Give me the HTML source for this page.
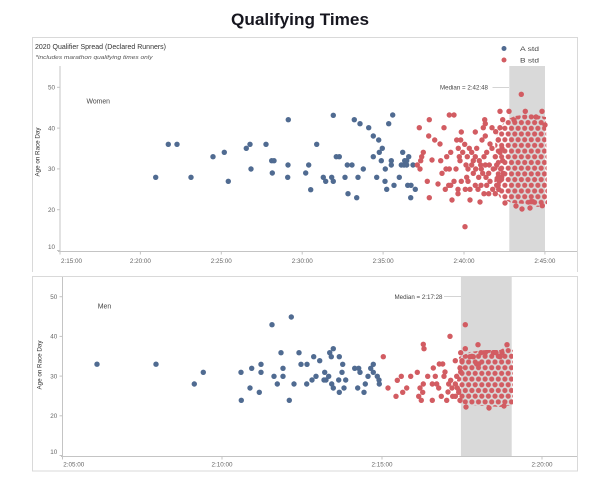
<!DOCTYPE html>
<html><head><meta charset="utf-8"><style>
html,body{margin:0;padding:0;background:#fff;}
svg{display:block;}
text{font-family:"Liberation Sans",sans-serif;}
</style></head><body>
<svg width="600" height="478" viewBox="0 0 600 478" xmlns="http://www.w3.org/2000/svg">
<defs>
<pattern id="pr" patternUnits="userSpaceOnUse" width="6.6" height="11.4">
<circle cx="3.3" cy="2.85" r="2.6" fill="#d25c62"/>
<circle cx="0" cy="8.55" r="2.6" fill="#d25c62"/>
<circle cx="6.6" cy="8.55" r="2.6" fill="#d25c62"/>
</pattern>
</defs>
<rect width="600" height="478" fill="#fff"/>
<text x="300" y="25" text-anchor="middle" font-size="17" font-weight="bold" fill="#16161f" textLength="138" lengthAdjust="spacingAndGlyphs">Qualifying Times</text>

<g stroke="#d9d9d9" stroke-width="1" fill="none">
<path d="M32.5 272 V37.5 H577.5 V272"/>
<rect x="32.5" y="276.5" width="545" height="194.5"/>
</g>

<text x="35" y="49" font-size="7" fill="#333" textLength="131" lengthAdjust="spacingAndGlyphs">2020 Qualifier Spread (Declared Runners)</text>
<text x="35.5" y="59" font-size="5.6" font-style="italic" fill="#555" textLength="117" lengthAdjust="spacingAndGlyphs">*includes marathon qualifying times only</text>

<circle cx="504" cy="48.5" r="2.5" fill="#506b91"/>
<text x="520" y="51" font-size="6" fill="#444" textLength="19" lengthAdjust="spacingAndGlyphs">A std</text>
<circle cx="504" cy="60" r="2.5" fill="#d25c62"/>
<text x="520" y="62.5" font-size="6" fill="#444" textLength="19" lengthAdjust="spacingAndGlyphs">B std</text>

<!-- ===== TOP CHART ===== -->
<rect x="509.3" y="66" width="35.7" height="185" fill="#d9d9d9"/>
<line x1="492.5" y1="87.3" x2="509" y2="87.3" stroke="#bbb" stroke-width="0.7"/>
<text x="440" y="89.5" font-size="6" fill="#444" textLength="48" lengthAdjust="spacingAndGlyphs">Median = 2:42:48</text>
<text x="86.5" y="103.5" font-size="7" fill="#444" textLength="23.5" lengthAdjust="spacingAndGlyphs">Women</text>
<text transform="translate(39.5,152) rotate(-90)" text-anchor="middle" font-size="6" fill="#333" textLength="49" lengthAdjust="spacingAndGlyphs">Age on Race Day</text>

<g stroke="#c4c4c4" stroke-width="1">
<line x1="60" y1="66" x2="60" y2="251.5"/>
<line x1="58" y1="251.5" x2="577" y2="251.5"/>
<line x1="57" y1="87.3" x2="60" y2="87.3"/>
<line x1="57" y1="128.1" x2="60" y2="128.1"/>
<line x1="57" y1="168.9" x2="60" y2="168.9"/>
<line x1="57" y1="209.7" x2="60" y2="209.7"/>
<line x1="57" y1="250.5" x2="60" y2="250.5"/>
<line x1="60" y1="251.5" x2="60" y2="254.5"/>
<line x1="140.4" y1="251.5" x2="140.4" y2="254.5"/>
<line x1="221.3" y1="251.5" x2="221.3" y2="254.5"/>
<line x1="302.2" y1="251.5" x2="302.2" y2="254.5"/>
<line x1="383.1" y1="251.5" x2="383.1" y2="254.5"/>
<line x1="464" y1="251.5" x2="464" y2="254.5"/>
<line x1="544.9" y1="251.5" x2="544.9" y2="254.5"/>
</g>
<g font-size="6.3" fill="#666" text-anchor="end">
<text x="55" y="89.5">50</text>
<text x="55" y="130.3">40</text>
<text x="55" y="171.1">30</text>
<text x="55" y="211.9">20</text>
<text x="55" y="249.2">10</text>
</g>
<g font-size="6.3" fill="#666" text-anchor="middle">
<text x="61" y="263.2" text-anchor="start">2:15:00</text>
<text x="140.4" y="263.2">2:20:00</text>
<text x="221.3" y="263.2">2:25:00</text>
<text x="302.2" y="263.2">2:30:00</text>
<text x="383.1" y="263.2">2:35:00</text>
<text x="464" y="263.2">2:40:00</text>
<text x="544.9" y="263.2">2:45:00</text>
</g>

<g fill="#506b91">
<circle cx="155.7" cy="177.3" r="2.7"/><circle cx="168.3" cy="144.3" r="2.7"/><circle cx="177" cy="144.3" r="2.7"/>
<circle cx="191" cy="177.3" r="2.7"/><circle cx="213" cy="156.7" r="2.7"/><circle cx="224.3" cy="152.3" r="2.7"/>
<circle cx="228.3" cy="181.3" r="2.7"/><circle cx="246.3" cy="148.3" r="2.7"/><circle cx="250" cy="144.3" r="2.7"/>
<circle cx="251" cy="169" r="2.7"/><circle cx="266" cy="144.3" r="2.7"/><circle cx="271.7" cy="160.7" r="2.7"/>
<circle cx="274" cy="160.7" r="2.7"/><circle cx="272.3" cy="173" r="2.7"/><circle cx="288.3" cy="119.7" r="2.7"/>
<circle cx="288" cy="165" r="2.7"/><circle cx="287.7" cy="177.3" r="2.7"/><circle cx="305.7" cy="173" r="2.7"/>
<circle cx="308.7" cy="165" r="2.7"/><circle cx="310.7" cy="189.7" r="2.7"/><circle cx="316.7" cy="144.3" r="2.7"/>
<circle cx="323.3" cy="177.3" r="2.7"/><circle cx="325.7" cy="181.3" r="2.7"/><circle cx="331.7" cy="177.3" r="2.7"/>
<circle cx="333.3" cy="181.3" r="2.7"/><circle cx="333.3" cy="115.3" r="2.7"/><circle cx="336.3" cy="156.7" r="2.7"/>
<circle cx="339.3" cy="156.7" r="2.7"/><circle cx="345" cy="177.3" r="2.7"/><circle cx="347.3" cy="165" r="2.7"/>
<circle cx="352" cy="165" r="2.7"/><circle cx="348" cy="193.7" r="2.7"/><circle cx="354.3" cy="119.7" r="2.7"/>
<circle cx="356.7" cy="197.7" r="2.7"/><circle cx="358" cy="177.3" r="2.7"/><circle cx="360" cy="123.7" r="2.7"/>
<circle cx="363.3" cy="169" r="2.7"/><circle cx="368.7" cy="127.7" r="2.7"/><circle cx="373.3" cy="136" r="2.7"/>
<circle cx="373.3" cy="156.7" r="2.7"/><circle cx="376.7" cy="177.3" r="2.7"/><circle cx="378.7" cy="140" r="2.7"/>
<circle cx="379.3" cy="152.3" r="2.7"/><circle cx="381.3" cy="160.7" r="2.7"/><circle cx="382.3" cy="148.3" r="2.7"/>
<circle cx="385.3" cy="169" r="2.7"/><circle cx="385" cy="181.3" r="2.7"/><circle cx="386.7" cy="189.3" r="2.7"/>
<circle cx="388.7" cy="123.7" r="2.7"/><circle cx="391.3" cy="160.7" r="2.7"/><circle cx="391.3" cy="165" r="2.7"/>
<circle cx="392.7" cy="115" r="2.7"/><circle cx="394" cy="185.3" r="2.7"/><circle cx="399.3" cy="177.3" r="2.7"/>
<circle cx="401.3" cy="165" r="2.7"/><circle cx="402.7" cy="152.3" r="2.7"/><circle cx="404" cy="165" r="2.7"/>
<circle cx="404.7" cy="160.7" r="2.7"/><circle cx="406.7" cy="160.7" r="2.7"/><circle cx="406.7" cy="165" r="2.7"/>
<circle cx="408.7" cy="156.7" r="2.7"/><circle cx="407.7" cy="185.3" r="2.7"/><circle cx="411" cy="185.3" r="2.7"/>
<circle cx="410.7" cy="197.7" r="2.7"/><circle cx="413" cy="165" r="2.7"/><circle cx="415.3" cy="189.3" r="2.7"/>
</g>

<polygon points="500,128 506,120 515,116 530,114 546,117 547,204 538,207 525,204 512,203 500,198 494,185 496,160 495,140" fill="url(#pr)"/>

<g fill="#d25c62">
<circle cx="419.3" cy="127.7" r="2.7"/><circle cx="429.3" cy="119.7" r="2.7"/><circle cx="449.3" cy="115" r="2.7"/>
<circle cx="454" cy="115" r="2.7"/><circle cx="444" cy="127.7" r="2.7"/><circle cx="428.7" cy="136" r="2.7"/>
<circle cx="434.7" cy="140" r="2.7"/><circle cx="423.3" cy="152.3" r="2.7"/><circle cx="421.7" cy="156.7" r="2.7"/>
<circle cx="420.7" cy="160.7" r="2.7"/><circle cx="417.3" cy="165" r="2.7"/><circle cx="420" cy="169" r="2.7"/>
<circle cx="427.3" cy="181.3" r="2.7"/><circle cx="429.3" cy="197.7" r="2.7"/><circle cx="440.7" cy="160.7" r="2.7"/>
<circle cx="446.7" cy="156.7" r="2.7"/><circle cx="450.7" cy="152.3" r="2.7"/><circle cx="442" cy="173.3" r="2.7"/>
<circle cx="446" cy="169" r="2.7"/><circle cx="449.3" cy="169" r="2.7"/><circle cx="454" cy="181.3" r="2.7"/>
<circle cx="445.3" cy="189.3" r="2.7"/><circle cx="448.7" cy="185.3" r="2.7"/><circle cx="450.7" cy="185.3" r="2.7"/>
<circle cx="458" cy="193.7" r="2.7"/><circle cx="461.3" cy="132" r="2.7"/><circle cx="456.7" cy="140" r="2.7"/>
<circle cx="460.7" cy="140" r="2.7"/><circle cx="462.7" cy="152.3" r="2.7"/><circle cx="458.3" cy="148.3" r="2.7"/>
<circle cx="465" cy="226.7" r="2.7"/><circle cx="475.3" cy="132" r="2.7"/><circle cx="484.7" cy="119.7" r="2.7"/>
<circle cx="485.3" cy="123.7" r="2.7"/><circle cx="492" cy="127.7" r="2.7"/><circle cx="500" cy="111.3" r="2.7"/>
<circle cx="464.7" cy="144.3" r="2.7"/><circle cx="469.3" cy="148.3" r="2.7"/><circle cx="471.7" cy="152.3" r="2.7"/>
<circle cx="473.3" cy="160.7" r="2.7"/><circle cx="467.3" cy="156.7" r="2.7"/><circle cx="466" cy="165" r="2.7"/>
<circle cx="468" cy="169" r="2.7"/><circle cx="466.7" cy="177.3" r="2.7"/><circle cx="468" cy="181.3" r="2.7"/>
<circle cx="465.3" cy="189.3" r="2.7"/><circle cx="470" cy="189.3" r="2.7"/><circle cx="475.3" cy="185.3" r="2.7"/>
<circle cx="478.7" cy="177.3" r="2.7"/><circle cx="481.3" cy="169" r="2.7"/><circle cx="479.3" cy="160.7" r="2.7"/>
<circle cx="484" cy="156.7" r="2.7"/><circle cx="486.7" cy="152.3" r="2.7"/><circle cx="482" cy="140" r="2.7"/>
<circle cx="485.3" cy="136" r="2.7"/><circle cx="490" cy="144" r="2.7"/><circle cx="492" cy="148.3" r="2.7"/>
<circle cx="495.3" cy="156.7" r="2.7"/><circle cx="496.7" cy="165" r="2.7"/><circle cx="493.3" cy="169" r="2.7"/>
<circle cx="488.7" cy="173.3" r="2.7"/><circle cx="486" cy="177.3" r="2.7"/><circle cx="490" cy="181.3" r="2.7"/>
<circle cx="486.7" cy="185.3" r="2.7"/><circle cx="492.7" cy="189.3" r="2.7"/><circle cx="488.7" cy="193.7" r="2.7"/>
<circle cx="484" cy="193.7" r="2.7"/><circle cx="481" cy="185.3" r="2.7"/><circle cx="478" cy="189.3" r="2.7"/>
<circle cx="496.7" cy="185.3" r="2.7"/><circle cx="499.3" cy="181.3" r="2.7"/><circle cx="501.7" cy="177.3" r="2.7"/>
<circle cx="503.3" cy="173.3" r="2.7"/><circle cx="500.7" cy="169" r="2.7"/><circle cx="502.7" cy="160.7" r="2.7"/>
<circle cx="500" cy="152.3" r="2.7"/><circle cx="502" cy="148.3" r="2.7"/><circle cx="498.3" cy="140" r="2.7"/>
<circle cx="495.7" cy="131.7" r="2.7"/><circle cx="500" cy="127.7" r="2.7"/><circle cx="502.7" cy="119.7" r="2.7"/>
<circle cx="483.3" cy="127.7" r="2.7"/><circle cx="476.7" cy="148.3" r="2.7"/><circle cx="475.3" cy="156.7" r="2.7"/>
<circle cx="471.7" cy="165" r="2.7"/><circle cx="475.7" cy="169" r="2.7"/><circle cx="473.3" cy="173.3" r="2.7"/>
<circle cx="480.7" cy="165" r="2.7"/><circle cx="485.3" cy="165" r="2.7"/><circle cx="489.3" cy="165" r="2.7"/>
<circle cx="482.7" cy="173.3" r="2.7"/><circle cx="498" cy="177.3" r="2.7"/><circle cx="495.3" cy="193.7" r="2.7"/>
<circle cx="498.7" cy="189.3" r="2.7"/><circle cx="458" cy="189.3" r="2.7"/><circle cx="461.3" cy="181.3" r="2.7"/>
<circle cx="456" cy="169" r="2.7"/><circle cx="460" cy="160.7" r="2.7"/><circle cx="459.3" cy="156.7" r="2.7"/>
<circle cx="521.3" cy="94.3" r="2.7"/><circle cx="509" cy="111.3" r="2.7"/><circle cx="525.3" cy="111.3" r="2.7"/>
<circle cx="542" cy="111.3" r="2.7"/><circle cx="542.3" cy="205.7" r="2.7"/><circle cx="533" cy="201.7" r="2.7"/>
<circle cx="531" cy="201.7" r="2.7"/><circle cx="530" cy="208" r="2.7"/><circle cx="516" cy="206" r="2.7"/>
<circle cx="470" cy="200" r="2.7"/><circle cx="480" cy="202" r="2.7"/><circle cx="452" cy="200" r="2.7"/>
<circle cx="438" cy="184" r="2.7"/><circle cx="432" cy="160" r="2.7"/><circle cx="440" cy="144" r="2.7"/>
<circle cx="514" cy="120" r="2.7"/><circle cx="536" cy="117" r="2.7"/><circle cx="545" cy="125" r="2.7"/>
<circle cx="505" cy="203" r="2.7"/><circle cx="522" cy="209" r="2.7"/>
</g>

<!-- ===== BOTTOM CHART ===== -->
<rect x="460.9" y="277" width="50.8" height="179" fill="#d9d9d9"/>
<line x1="444" y1="296.7" x2="461" y2="296.7" stroke="#bbb" stroke-width="0.7"/>
<text x="442.5" y="299" font-size="6" fill="#444" text-anchor="end" textLength="48" lengthAdjust="spacingAndGlyphs">Median = 2:17:28</text>
<text x="97.7" y="308.5" font-size="7" fill="#444" textLength="13.5" lengthAdjust="spacingAndGlyphs">Men</text>
<text transform="translate(41.5,365) rotate(-90)" text-anchor="middle" font-size="6" fill="#333" textLength="49" lengthAdjust="spacingAndGlyphs">Age on Race Day</text>

<g stroke="#c4c4c4" stroke-width="1">
<line x1="62.5" y1="277" x2="62.5" y2="456.5"/>
<line x1="61" y1="456.5" x2="577" y2="456.5"/>
<line x1="59.5" y1="296.7" x2="62.5" y2="296.7"/>
<line x1="59.5" y1="336.4" x2="62.5" y2="336.4"/>
<line x1="59.5" y1="376.1" x2="62.5" y2="376.1"/>
<line x1="59.5" y1="415.8" x2="62.5" y2="415.8"/>
<line x1="59.5" y1="455.5" x2="62.5" y2="455.5"/>
<line x1="62.5" y1="456.5" x2="62.5" y2="459.5"/>
<line x1="222" y1="456.5" x2="222" y2="459.5"/>
<line x1="382" y1="456.5" x2="382" y2="459.5"/>
<line x1="542" y1="456.5" x2="542" y2="459.5"/>
</g>
<g font-size="6.3" fill="#666" text-anchor="end">
<text x="57.3" y="298.9">50</text>
<text x="57.3" y="338.6">40</text>
<text x="57.3" y="378.3">30</text>
<text x="57.3" y="418">20</text>
<text x="57.3" y="453.9">10</text>
</g>
<g font-size="6.3" fill="#666" text-anchor="middle">
<text x="63.3" y="466.5" text-anchor="start">2:05:00</text>
<text x="222" y="466.5">2:10:00</text>
<text x="382" y="466.5">2:15:00</text>
<text x="542" y="466.5">2:20:00</text>
</g>

<g fill="#506b91">
<circle cx="97" cy="364.2" r="2.7"/><circle cx="156" cy="364.2" r="2.7"/><circle cx="194.3" cy="384" r="2.7"/>
<circle cx="203.3" cy="372.3" r="2.7"/><circle cx="241" cy="372.3" r="2.7"/><circle cx="241.3" cy="400.3" r="2.7"/>
<circle cx="250" cy="388" r="2.7"/><circle cx="251.7" cy="368.3" r="2.7"/><circle cx="259.3" cy="392.3" r="2.7"/>
<circle cx="261" cy="364.3" r="2.7"/><circle cx="261" cy="372.3" r="2.7"/><circle cx="272" cy="324.7" r="2.7"/>
<circle cx="274" cy="376.3" r="2.7"/><circle cx="277.3" cy="384" r="2.7"/><circle cx="281" cy="352.7" r="2.7"/>
<circle cx="283" cy="368.3" r="2.7"/><circle cx="283" cy="376.3" r="2.7"/><circle cx="289.3" cy="400.3" r="2.7"/>
<circle cx="291.3" cy="317" r="2.7"/><circle cx="294" cy="384" r="2.7"/><circle cx="299" cy="352.7" r="2.7"/>
<circle cx="301" cy="364.3" r="2.7"/><circle cx="307" cy="364.3" r="2.7"/><circle cx="306.7" cy="384" r="2.7"/>
<circle cx="312" cy="380" r="2.7"/><circle cx="316" cy="376.3" r="2.7"/><circle cx="313.7" cy="356.7" r="2.7"/>
<circle cx="319.7" cy="360.7" r="2.7"/><circle cx="324.7" cy="372.3" r="2.7"/><circle cx="326" cy="380" r="2.7"/>
<circle cx="328.7" cy="376.3" r="2.7"/><circle cx="324" cy="380" r="2.7"/><circle cx="329.7" cy="352.7" r="2.7"/>
<circle cx="333.3" cy="348.7" r="2.7"/><circle cx="331.3" cy="356.7" r="2.7"/><circle cx="339.3" cy="356.7" r="2.7"/>
<circle cx="331.7" cy="384" r="2.7"/><circle cx="333.3" cy="388" r="2.7"/><circle cx="338.7" cy="380" r="2.7"/>
<circle cx="339.3" cy="392.3" r="2.7"/><circle cx="344" cy="388" r="2.7"/><circle cx="345.7" cy="380" r="2.7"/>
<circle cx="342.7" cy="364.3" r="2.7"/><circle cx="342" cy="372.3" r="2.7"/><circle cx="354.7" cy="368.3" r="2.7"/>
<circle cx="358.7" cy="368.3" r="2.7"/><circle cx="360" cy="372.3" r="2.7"/><circle cx="357.7" cy="388" r="2.7"/>
<circle cx="364" cy="392.3" r="2.7"/><circle cx="365.3" cy="384" r="2.7"/><circle cx="368" cy="376.3" r="2.7"/>
<circle cx="370.7" cy="368.3" r="2.7"/><circle cx="373.3" cy="364.3" r="2.7"/><circle cx="373.3" cy="372.3" r="2.7"/>
<circle cx="377.3" cy="376.3" r="2.7"/><circle cx="379" cy="380" r="2.7"/><circle cx="379.3" cy="384" r="2.7"/>
</g>

<polygon points="459,357 470,352 485,350 500,350 508,346 513,350 513,405 500,407 485,406 470,405 459,403 456,390 458,372" fill="url(#pr)"/>

<g fill="#d25c62">
<circle cx="383.3" cy="356.7" r="2.7"/><circle cx="388" cy="388" r="2.7"/><circle cx="396" cy="396.3" r="2.7"/>
<circle cx="397.3" cy="380.3" r="2.7"/><circle cx="401.3" cy="376.3" r="2.7"/><circle cx="402.7" cy="392.3" r="2.7"/>
<circle cx="406.7" cy="388" r="2.7"/><circle cx="410.7" cy="376.3" r="2.7"/><circle cx="417.3" cy="372.3" r="2.7"/>
<circle cx="418.7" cy="396.3" r="2.7"/><circle cx="421.3" cy="400.3" r="2.7"/><circle cx="422.7" cy="392.3" r="2.7"/>
<circle cx="420" cy="388" r="2.7"/><circle cx="423.3" cy="384" r="2.7"/><circle cx="423.3" cy="344.3" r="2.7"/>
<circle cx="424" cy="348.7" r="2.7"/><circle cx="427.7" cy="376.3" r="2.7"/><circle cx="432.3" cy="384" r="2.7"/>
<circle cx="432.3" cy="400.3" r="2.7"/><circle cx="433.3" cy="368" r="2.7"/><circle cx="435.3" cy="376.3" r="2.7"/>
<circle cx="436.7" cy="384" r="2.7"/><circle cx="438.7" cy="388" r="2.7"/><circle cx="439.3" cy="364" r="2.7"/>
<circle cx="442.7" cy="364" r="2.7"/><circle cx="441.3" cy="396.3" r="2.7"/><circle cx="444" cy="376.3" r="2.7"/>
<circle cx="446.7" cy="400.3" r="2.7"/><circle cx="448.7" cy="384" r="2.7"/><circle cx="450.7" cy="380.3" r="2.7"/>
<circle cx="452" cy="388" r="2.7"/><circle cx="452.7" cy="396.3" r="2.7"/><circle cx="450" cy="336.3" r="2.7"/>
<circle cx="455.3" cy="360.7" r="2.7"/><circle cx="465.3" cy="324.7" r="2.7"/><circle cx="455.3" cy="384" r="2.7"/>
<circle cx="457.3" cy="388" r="2.7"/><circle cx="460" cy="368" r="2.7"/><circle cx="460.7" cy="372" r="2.7"/>
<circle cx="462" cy="360.7" r="2.7"/><circle cx="460.7" cy="352.7" r="2.7"/><circle cx="456.7" cy="376.3" r="2.7"/>
<circle cx="458.7" cy="392.3" r="2.7"/><circle cx="455.3" cy="396.3" r="2.7"/><circle cx="460" cy="400.3" r="2.7"/>
<circle cx="478" cy="344.7" r="2.7"/><circle cx="507" cy="344.7" r="2.7"/><circle cx="465.3" cy="348.7" r="2.7"/>
<circle cx="470" cy="356.7" r="2.7"/><circle cx="473.3" cy="356.7" r="2.7"/><circle cx="476.7" cy="364" r="2.7"/>
<circle cx="478.7" cy="364" r="2.7"/><circle cx="485.3" cy="352.7" r="2.7"/><circle cx="493.3" cy="352.7" r="2.7"/>
<circle cx="496" cy="352.7" r="2.7"/><circle cx="502" cy="352.7" r="2.7"/><circle cx="481" cy="352.7" r="2.7"/>
<circle cx="500" cy="356.7" r="2.7"/><circle cx="445" cy="372" r="2.7"/><circle cx="448" cy="392" r="2.7"/>
<circle cx="466" cy="407" r="2.7"/><circle cx="489" cy="408" r="2.7"/><circle cx="504" cy="406" r="2.7"/>
</g>
</svg>
</body></html>
